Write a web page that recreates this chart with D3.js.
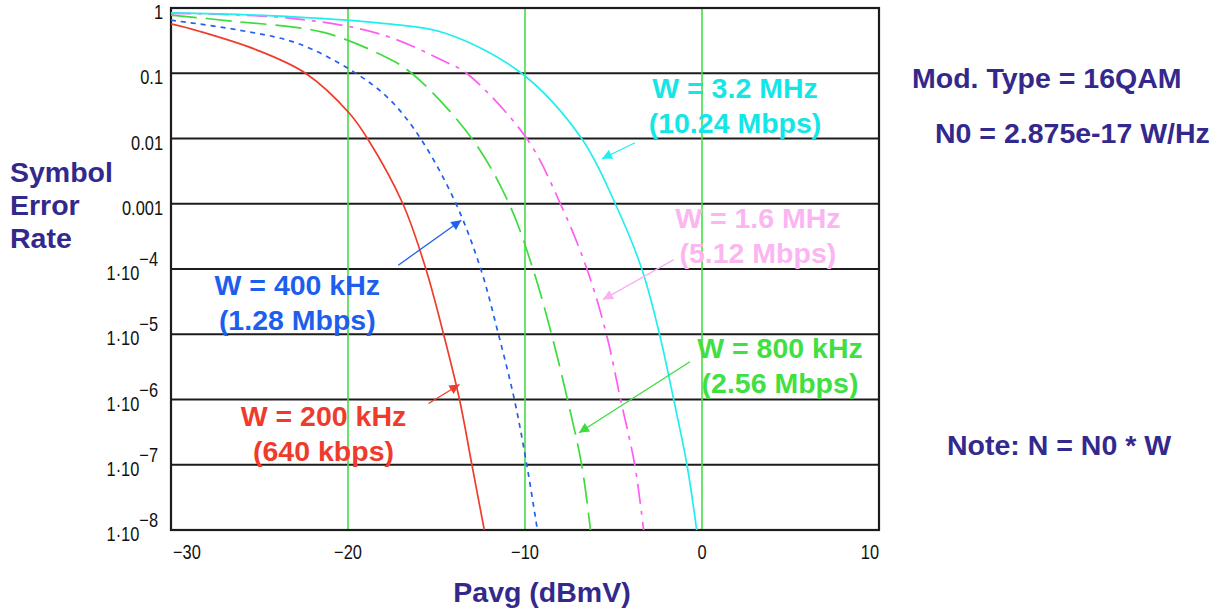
<!DOCTYPE html>
<html>
<head>
<meta charset="utf-8">
<script src="https://cdn.jsdelivr.net/npm/d3@7"></script>
<style>
  body { margin: 0; background: #fff; }
  .tick { font-family: 'Liberation Sans', Arial, sans-serif; font-size: 20px; fill: #111; }
  .note { font-family: 'Liberation Sans', Arial, sans-serif; font-weight: bold; font-size: 28.5px; }
</style>
</head>
<body>
<svg id="chart" width="1225" height="611"></svg>
<script>
const X_TICKS = [-30, -20, -10, 0, 10]
const X_GRID = [-20, -10, 0]
const Y_TICKS = [1, 0.1, 0.01, 0.001, 1e-4, 1e-5, 1e-6, 1e-7, 1e-8]

// Pavg (dBmV) / symbol error rate
const PAVG_200K = [-30, -28.4, -25.2, -22.4, -19.9, -18.9, -16.9, -15.6, -14.6, -13.7, -13.0, -12.3]
const SER_200K = [0.57, 0.44, 0.23, 0.1, 0.024, 0.01, 1e-3, 1e-4, 1e-5, 1e-6, 1e-7, 1e-8]

const PAVG_400K = [-30, -26.2, -22.9, -19.8, -17.7, -15.9, -13.9, -12.5, -11.5, -10.6, -9.9, -9.3]
const SER_400K = [0.65, 0.46, 0.29, 0.11, 0.041, 0.01, 1e-3, 1e-4, 1e-5, 1e-6, 1e-7, 1e-8]

const PAVG_800K = [-30, -26.6, -21.5, -18.1, -16.4, -13.0, -10.9, -9.55, -8.5, -7.6, -6.8, -6.3]
const SER_800K = [0.78, 0.63, 0.43, 0.19, 0.1, 0.01, 1e-3, 1e-4, 1e-5, 1e-6, 1e-7, 1e-8]

const PAVG_1M6 = [-30, -23.3, -18.2, -14.5, -13.3, -9.9, -8.0, -6.5, -5.4, -4.6, -3.8, -3.3]
const SER_1M6 = [0.83, 0.70, 0.40, 0.15, 0.1, 0.01, 1e-3, 1e-4, 1e-5, 1e-6, 1e-7, 1e-8]

const PAVG_3M2 = [-30, -23.3, -17.7, -14.5, -10.2, -6.8, -4.9, -3.4, -2.4, -1.6, -0.85, -0.3]
const SER_3M2 = [0.84, 0.74, 0.57, 0.41, 0.1, 0.01, 1e-3, 1e-4, 1e-5, 1e-6, 1e-7, 1e-8]

const LABELS = ['W = 200 kHz', 'W = 400 kHz', 'W = 800 kHz', 'W = 1.6 MHz', 'W = 3.2 MHz']
const RATES = ['(640 kbps)', '(1.28 Mbps)', '(2.56 Mbps)', '(5.12 Mbps)', '(10.24 Mbps)']
// point on each curve the arrow points at
const ARROW_AT = [[-13.7, 1.7e-6], [-13.6, 5.6e-4], [-6.95, 3.1e-7], [-5.6, 3.4e-5], [-5.65, 0.0049]]

const zip = (a, b) => a.map((v, i) => [v, b[i]])

const SERIES = [
  {id: 'w200k', data: zip(PAVG_200K, SER_200K), color: '#f03c2c', text: '#ef3b2b', dash: null,
   tail: [-31, 19], label: [-136, 42]},
  {id: 'w400k', data: zip(PAVG_400K, SER_400K), color: '#2060ee', text: '#1d5fec', dash: '5,5',
   tail: [-63, 45], label: [-164, 75]},
  {id: 'w800k', data: zip(PAVG_800K, SER_800K), color: '#3ddc3d', text: '#3fe03f', dash: '26,9',
   tail: [111, -71], label: [201, -75]},
  {id: 'w1m6', data: zip(PAVG_1M6, SER_1M6), color: '#ff5cf4', text: '#fbb6f2', dash: '20,7,4,7',
   tail: [71, -40], label: [155, -72], arrowColor: '#fbb0f0'},
  {id: 'w3m2', data: zip(PAVG_3M2, SER_3M2), color: '#22eeee', text: '#14e6e6', dash: null,
   tail: [33, -16], label: [133, -61]}
].map((s, i) => ({...s, name: LABELS[i], rate: RATES[i], at: ARROW_AT[i]}))

const svg = d3.select('#chart')
const x = d3.scaleLinear().domain([-30, 10]).range([171, 879])
const y = d3.scaleLog().domain([1e-8, 1]).range([530, 8])
const [x0, x1] = x.range()
const [y0, y1] = y.range()
const NARROW = 0.82  // tick labels are a condensed face

svg.append('rect').attr('width', 1225).attr('height', 611).attr('fill', '#fff')

svg.append('clipPath').attr('id', 'plot-clip')
  .append('rect').attr('x', x0).attr('y', y1).attr('width', x1 - x0).attr('height', y0 - y1)

// horizontal decade lines
svg.append('g').selectAll('line').data(Y_TICKS).join('line')
  .attr('x1', x0).attr('x2', x1)
  .attr('y1', d => y(d)).attr('y2', d => y(d))
  .attr('stroke', '#1c1c1c').attr('stroke-width', 2.2)

// green vertical markers
svg.append('g').selectAll('line').data(X_GRID).join('line')
  .attr('x1', d => x(d)).attr('x2', d => x(d))
  .attr('y1', y1).attr('y2', y0)
  .attr('stroke', '#44dd44').attr('stroke-width', 1.6)

svg.append('rect')
  .attr('x', x0).attr('y', y1).attr('width', x1 - x0).attr('height', y0 - y1)
  .attr('fill', 'none').attr('stroke', '#1c1c1c').attr('stroke-width', 2.2)

const line = d3.line().x(d => x(d[0])).y(d => y(d[1])).curve(d3.curveCatmullRom.alpha(0.5))

svg.append('g').attr('clip-path', 'url(#plot-clip)')
  .selectAll('path').data(SERIES).join('path')
  .attr('d', d => line(d.data))
  .attr('fill', 'none')
  .attr('stroke', d => d.color)
  .attr('stroke-width', 1.7)
  .attr('stroke-dasharray', d => d.dash)

// y tick labels, mathcad style 1·10^-n
Y_TICKS.forEach(v => {
  const g = svg.append('g').attr('class', 'tick')
    .attr('transform', `translate(${v >= 1e-3 ? 163 : 158},${y(v) + 11}) scale(${NARROW},1)`)
  const t = g.append('text').attr('text-anchor', 'end')
  if (v >= 1e-3) {
    t.text(String(v))
  } else {
    t.append('tspan').text('1·10')
    t.append('tspan').attr('dy', -14).text('−' + Math.round(-Math.log10(v)))
  }
})

X_TICKS.forEach((d, i) => {
  const last = i === X_TICKS.length - 1
  const px = i === 0 ? x0 + 2 : last ? x1 : x(d)
  svg.append('g').attr('class', 'tick')
    .attr('transform', `translate(${px},${y0 + 29}) scale(${NARROW},1)`)
    .append('text')
    .attr('text-anchor', i === 0 ? 'start' : last ? 'end' : 'middle')
    .text(d < 0 ? '−' + Math.abs(d) : d)
})

// arrows + curve labels
const defs = svg.append('defs')
SERIES.forEach(s => {
  const c = s.arrowColor || s.color
  defs.append('marker').attr('id', `head-${s.id}`)
    .attr('viewBox', '0 0 10 10').attr('refX', 10).attr('refY', 5)
    .attr('markerUnits', 'userSpaceOnUse')
    .attr('markerWidth', 13).attr('markerHeight', 10)
    .attr('orient', 'auto')
    .append('path').attr('d', 'M0,0L10,5L0,10Z').attr('fill', c)

  const tx = x(s.at[0]), ty = y(s.at[1])
  svg.append('line')
    .attr('x1', tx + s.tail[0]).attr('y1', ty + s.tail[1])
    .attr('x2', tx).attr('y2', ty)
    .attr('stroke', c).attr('stroke-width', 1.3)
    .attr('marker-end', `url(#head-${s.id})`)

  const lbl = svg.append('text').attr('class', 'note').attr('fill', s.text)
    .attr('text-anchor', 'middle')
  lbl.append('tspan').attr('x', tx + s.label[0]).attr('y', ty + s.label[1]).text(s.name)
  lbl.append('tspan').attr('x', tx + s.label[0]).attr('y', ty + s.label[1] + 35).text(s.rate)
})

const NAVY = '#33298c'

svg.append('text').attr('class', 'note').attr('fill', NAVY)
  .attr('x', 542).attr('y', 602).attr('text-anchor', 'middle')
  .text('Pavg (dBmV)')

const yTitle = svg.append('text').attr('class', 'note').attr('fill', NAVY)
;['Symbol', 'Error', 'Rate'].forEach((w, i) => {
  yTitle.append('tspan').attr('x', 10).attr('y', 182 + i * 33).text(w)
})

svg.append('text').attr('class', 'note').attr('fill', NAVY)
  .attr('x', 912).attr('y', 88).text('Mod. Type = 16QAM')
svg.append('text').attr('class', 'note').attr('fill', NAVY)
  .attr('x', 935).attr('y', 143).text('N0 = 2.875e-17 W/Hz')
svg.append('text').attr('class', 'note').attr('fill', NAVY)
  .attr('x', 947).attr('y', 455).text('Note: N = N0 * W')
</script>
</body>
</html>
